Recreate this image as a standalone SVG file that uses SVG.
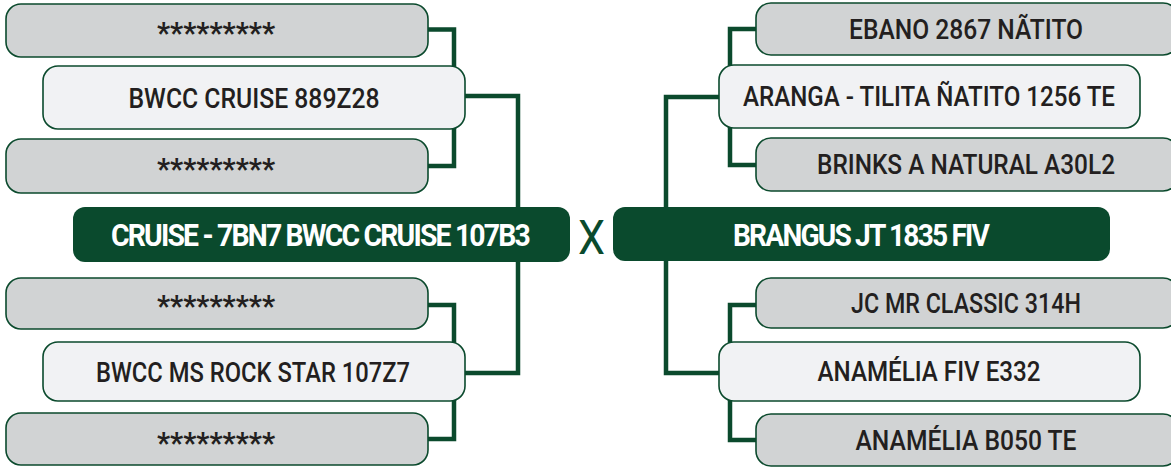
<svg xmlns="http://www.w3.org/2000/svg" width="1171" height="468" viewBox="0 0 1171 468">
<style>
.bg{fill:#ffffff}
.gray{fill:#d1d3d4;stroke:#0b4a2d;stroke-width:1.6}
.light{fill:#f1f2f4;stroke:#0b4a2d;stroke-width:1.6}
.main{fill:#0a4a2d}
.t{font-family:Roboto,"Liberation Sans",sans-serif;font-size:27px;font-weight:500;fill:#231f20;text-anchor:middle}
.a{font-family:Roboto,"Liberation Sans",sans-serif;font-size:30px;font-weight:700;fill:#231f20;text-anchor:middle}
.tm{font-family:Roboto,"Liberation Sans",sans-serif;font-size:31px;font-weight:700;fill:#ffffff;text-anchor:middle;letter-spacing:-2px}
.x{font-family:Roboto,"Liberation Sans",sans-serif;font-size:48px;fill:#0a4a2d;text-anchor:middle}
.c{fill:none;stroke:#0b4a2d;stroke-width:4.5;stroke-linejoin:miter}
</style>
<rect class="bg" x="0" y="0" width="1171" height="468"/>
<g id="connectors">
<path class="c" d="M428,29.5 H454 V166 H428"/>
<path class="c" d="M465,96 H518 V208"/>
<path class="c" d="M428,305 H454 V439 H428"/>
<path class="c" d="M465,373 H518 V261"/>
<path class="c" d="M756,29 H730 V165 H756"/>
<path class="c" d="M719,97 H666 V208"/>
<path class="c" d="M756,305 H730 V440 H756"/>
<path class="c" d="M719,373 H666 V260"/>
</g>
<g id="n-l1"><rect class="gray" x="6" y="4" width="422" height="53" rx="15"/><text class="a" x="216" y="43" textLength="118" lengthAdjust="spacingAndGlyphs">*********</text></g>
<g id="n-l2"><rect class="light" x="43" y="66" width="422" height="63" rx="15"/><text class="t" x="254" y="107.5" textLength="251" lengthAdjust="spacingAndGlyphs">BWCC CRUISE 889Z28</text></g>
<g id="n-l3"><rect class="gray" x="6" y="139" width="422" height="54" rx="15"/><text class="a" x="216" y="179" textLength="118" lengthAdjust="spacingAndGlyphs">*********</text></g>
<g id="n-left-main"><rect class="main" x="73" y="207" width="497" height="55" rx="12"/><text class="tm" x="320" y="246" textLength="418" lengthAdjust="spacingAndGlyphs">CRUISE - 7BN7 BWCC CRUISE 107B3</text></g>
<g id="n-l4"><rect class="gray" x="6" y="278" width="422" height="51" rx="15"/><text class="a" x="216" y="316" textLength="118" lengthAdjust="spacingAndGlyphs">*********</text></g>
<g id="n-l5"><rect class="light" x="43" y="342" width="422" height="59" rx="15"/><text class="t" x="253" y="381.5" textLength="314" lengthAdjust="spacingAndGlyphs">BWCC MS ROCK STAR 107Z7</text></g>
<g id="n-l6"><rect class="gray" x="6" y="413" width="422" height="52" rx="15"/><text class="a" x="216" y="453" textLength="118" lengthAdjust="spacingAndGlyphs">*********</text></g>
<g id="x-label"><text class="x" x="591.5" y="254" textLength="27" lengthAdjust="spacingAndGlyphs">X</text></g>
<g id="n-r1"><rect class="gray" x="756" y="3" width="422" height="52" rx="15"/><text class="t" x="966" y="39" textLength="234" lengthAdjust="spacingAndGlyphs">EBANO 2867 NÃTITO</text></g>
<g id="n-r2"><rect class="light" x="719" y="65" width="421" height="63" rx="15"/><text class="t" x="929" y="106" textLength="372" lengthAdjust="spacingAndGlyphs">ARANGA - TILITA ÑATITO 1256 TE</text></g>
<g id="n-r3"><rect class="gray" x="756" y="138" width="422" height="53" rx="15"/><text class="t" x="966" y="174" textLength="298" lengthAdjust="spacingAndGlyphs">BRINKS A NATURAL A30L2</text></g>
<g id="n-right-main"><rect class="main" x="613" y="207" width="497" height="54" rx="12"/><text class="tm" x="860.5" y="246" textLength="255" lengthAdjust="spacingAndGlyphs">BRANGUS JT 1835 FIV</text></g>
<g id="n-r4"><rect class="gray" x="756" y="278" width="422" height="50" rx="15"/><text class="t" x="966" y="313" textLength="230" lengthAdjust="spacingAndGlyphs">JC MR CLASSIC 314H</text></g>
<g id="n-r5"><rect class="light" x="719" y="342" width="421" height="59" rx="15"/><text class="t" x="929" y="381" textLength="223" lengthAdjust="spacingAndGlyphs">ANAMÉLIA FIV E332</text></g>
<g id="n-r6"><rect class="gray" x="756" y="414" width="422" height="52" rx="15"/><text class="t" x="966" y="450" textLength="221" lengthAdjust="spacingAndGlyphs">ANAMÉLIA B050 TE</text></g>
</svg>
